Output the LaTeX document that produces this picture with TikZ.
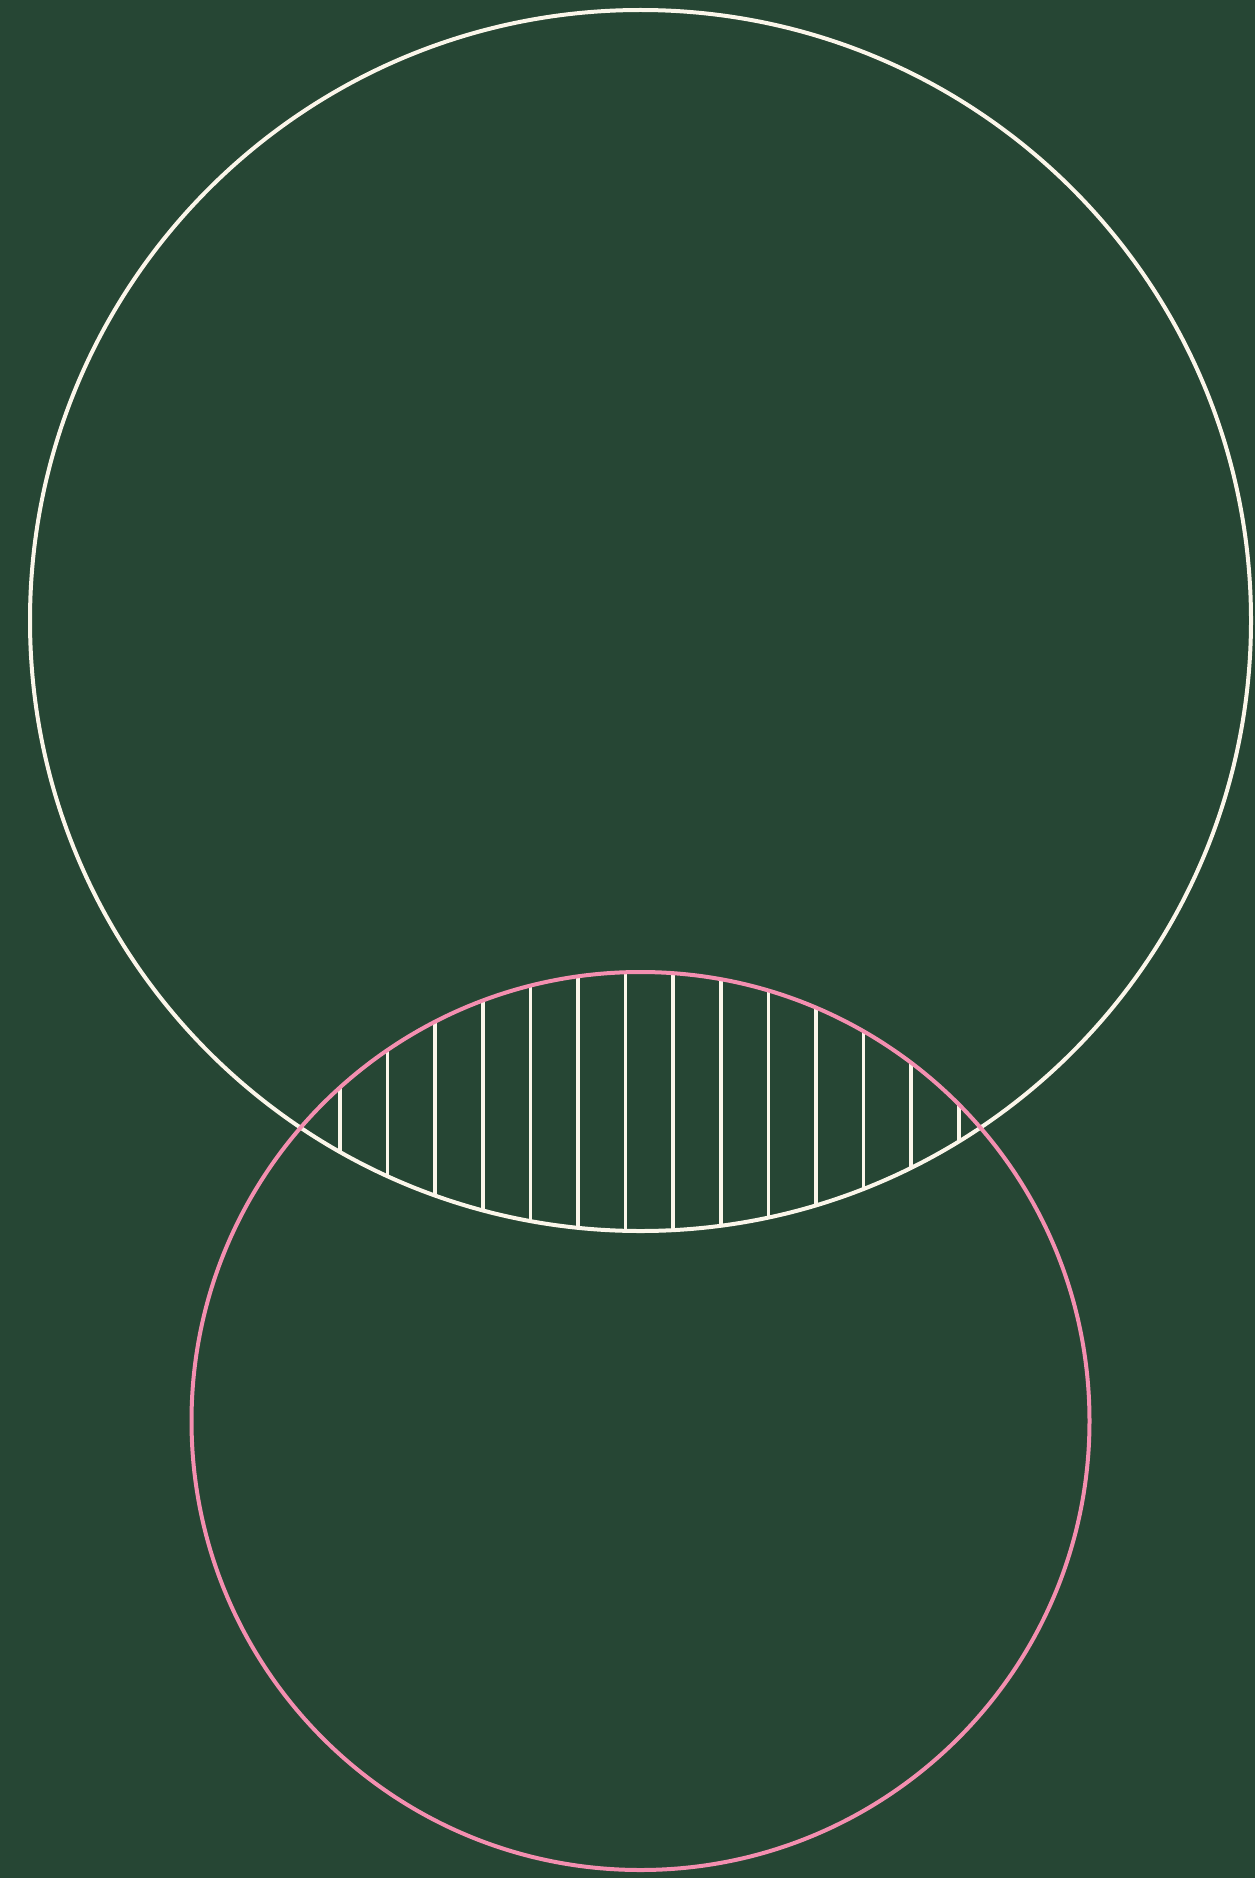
\documentclass[tikz,border=0pt]{standalone}
\usepackage{xcolor}
\definecolor{bggreen}{HTML}{264634}
\definecolor{cream}{HTML}{FBF6EA}
\definecolor{rosepink}{HTML}{F48FB0}
\tikzset{
  ring/.style={line width=4pt,draw=cream},
  pinkring/.style={line width=4pt,draw=rosepink},
  hatch/.style={line width=3.6pt,cream}
}
\begin{document}
\begin{tikzpicture}[x=1pt,y=-1pt]
  % background
  \fill[bggreen] (0,0) rectangle (1255,1878);
  \useasboundingbox (0,0) rectangle (1255,1878);
  \coordinate (top) at (640.5,620.5);
  \coordinate (bot) at (640.5,1421);

  % hatching inside the lens
  \begin{scope}
    \clip (top) circle[radius=610.5];
    \clip (bot) circle[radius=449];
    \foreach \k in {0,...,13}
      \draw[hatch] ({340+47.6*\k},950) -- ({340+47.6*\k},1250);
  \end{scope}

  % circles
  \draw[ring] (top) circle[radius=610.5];
  \draw[pinkring] (bot) circle[radius=449];
\end{tikzpicture}
\end{document}
